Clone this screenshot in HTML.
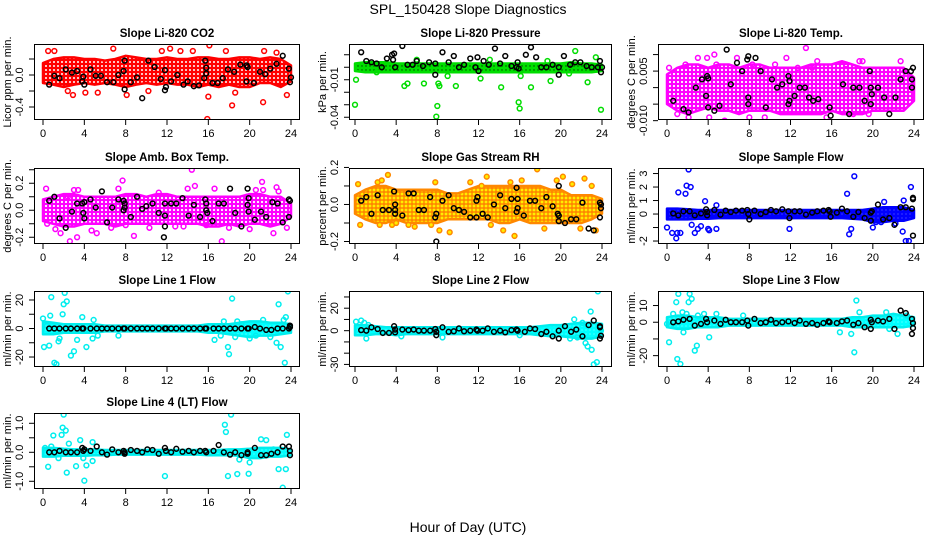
<!DOCTYPE html>
<html><head><meta charset="utf-8"><style>
html,body{margin:0;padding:0;background:#fff;}
svg{display:block;font-family:"Liberation Sans",Arial,sans-serif;}
</style></head><body>
<svg id="chart" width="936" height="540" viewBox="0 0 936 540" xmlns="http://www.w3.org/2000/svg">
<defs>
<pattern id="p-red" width="4" height="4" patternUnits="userSpaceOnUse"><rect width="4" height="4" fill="#ff0000"/><circle cx="2" cy="2" r="1.0" fill="#fff"/></pattern>
<pattern id="p-green" width="4" height="4" patternUnits="userSpaceOnUse"><rect width="4" height="4" fill="#00e000"/><circle cx="2" cy="2" r="0.7" fill="#004000"/></pattern>
<pattern id="p-magenta" width="4" height="4" patternUnits="userSpaceOnUse"><rect width="4" height="4" fill="#ff00ff"/><circle cx="2" cy="2" r="1.1" fill="#fff"/></pattern>
<pattern id="p-orange" width="4" height="4" patternUnits="userSpaceOnUse"><rect width="4" height="4" fill="#ff8800"/><circle cx="2" cy="2" r="1.4" fill="#ffee00"/></pattern>
<pattern id="p-blue" width="4" height="4" patternUnits="userSpaceOnUse"><rect width="4" height="4" fill="#0000ff"/><circle cx="2" cy="2" r="0.6" fill="#6060ff"/></pattern>
<pattern id="p-cyan" width="4" height="4" patternUnits="userSpaceOnUse"><rect width="4" height="4" fill="#00ffff"/><circle cx="2" cy="2" r="0.6" fill="#80ffff"/></pattern>
</defs>
<text x="468" y="14" text-anchor="middle" font-size="14">SPL_150428  Slope Diagnostics</text>
<text x="468" y="532" text-anchor="middle" font-size="14">Hour of Day (UTC)</text>
</svg>
<script>
const hours=[0,1,2,3,4,5,6,7,8,9,10,11,12,13,14,15,16,17,18,19,20,21,22,23,24];
const xTicks=[0,4,8,12,16,20,24];

const co2Upper=[0.15,0.2,0.22,0.22,0.2,0.2,0.18,0.2,0.24,0.22,0.2,0.2,0.22,0.2,0.2,0.22,0.22,0.2,0.2,0.22,0.22,0.2,0.22,0.2,0.12];
const co2Lower=[-0.1,-0.12,-0.15,-0.12,-0.1,-0.12,-0.1,-0.12,-0.15,-0.12,-0.1,-0.12,-0.1,-0.12,-0.12,-0.15,-0.12,-0.15,-0.12,-0.15,-0.15,-0.1,-0.1,-0.15,-0.08];
const co2Out=[[0.5,0.3],[1.1,0.3],[2.4,-0.2],[2.9,-0.25],[4.1,-0.22],[5.3,-0.22],[6.8,0.33],[8.1,-0.25],[10.2,-0.2],[11.5,0.3],[14.5,0.3],[15.9,-0.55],[16.1,0.37],[16.0,-0.27],[17.7,0.3],[18.3,-0.38],[18.6,-0.22],[21.3,-0.34],[21.4,0.3],[23.6,-0.25],[22.6,0.28],[12.3,0.33],[13.3,0.3]];
const co2Black=[[0.6,-0.12],[1.1,-0.01],[1.6,-0.04],[2.2,0.07],[2.8,0.03],[3.3,0.05],[3.8,-0.08],[3.9,-0.02],[4.0,-0.12],[4.6,0.07],[5.1,-0.01],[5.6,-0.01],[6.2,-0.09],[6.8,-0.09],[7.3,0.0],[7.8,0.05],[7.9,-0.18],[7.9,0.18],[8.5,-0.09],[9.1,-0.03],[9.6,-0.29],[10.2,0.18],[10.8,0.1],[11.4,-0.05],[11.8,-0.19],[11.8,0.06],[11.9,-0.15],[12.4,-0.08],[13.0,0.0],[13.6,-0.12],[14.0,-0.08],[14.6,-0.14],[15.1,-0.13],[15.7,0.18],[15.8,0.09],[15.8,0.02],[15.6,-0.04],[16.4,-0.1],[16.9,-0.1],[17.4,-0.04],[17.9,0.07],[18.5,0.04],[19.1,0.13],[19.7,0.12],[19.8,0.1],[19.7,-0.08],[20.4,-0.1],[21.0,0.04],[21.5,0.01],[22.0,0.08],[22.6,0.14],[23.2,0.24],[23.8,0.08],[23.9,-0.09],[24.0,-0.03]];

const presUpper=[0.003,0.004,0.004,0.004,0.003,0.003,0.003,0.003,0.003,0.003,0.003,0.003,0.003,0.003,0.003,0.003,0.003,0.003,0.003,0.003,0.003,0.004,0.003,0.003,0.002];
const presLower=[-0.003,-0.004,-0.004,-0.004,-0.004,-0.004,-0.004,-0.004,-0.004,-0.004,-0.004,-0.004,-0.004,-0.004,-0.004,-0.004,-0.004,-0.004,-0.004,-0.004,-0.004,-0.004,-0.004,-0.004,-0.003];
const presOut=[[0.0,-0.03],[0.1,-0.01],[4.0,-0.046],[4.8,-0.015],[5.1,-0.013],[6.7,-0.013],[7.9,-0.0395],[8.0,-0.031],[8.1,-0.013],[8.2,-0.015],[9.8,-0.015],[11.9,-0.046],[12.2,-0.009],[14.2,-0.016],[15.9,-0.028],[16.0,-0.033],[16.1,-0.007],[17.1,-0.016],[19.0,-0.011],[19.9,-0.052],[21.4,0.013],[22.6,-0.012],[23.9,-0.034],[23.4,0.008],[20.8,-0.005],[18.7,0.005],[13.1,0.006],[6.0,0.006],[9.0,-0.007],[2.1,-0.004]];
const presBlack=[[0.6,0.012],[1.1,0.005],[1.6,0.004],[2.1,0.003],[2.6,0.0],[3.1,0.007],[3.6,0.01],[3.8,0.011],[3.7,0.006],[3.9,0.0],[4.6,0.017],[5.1,0.002],[5.6,0.002],[6.0,0.005],[6.6,0.001],[7.2,0.004],[7.8,0.003],[7.8,-0.006],[8.5,0.012],[9.1,0.004],[9.6,0.009],[10.1,0.0],[10.6,0.002],[11.2,0.007],[11.7,0.0],[11.9,0.008],[12.0,-0.003],[12.5,0.005],[13.0,0.002],[13.6,0.015],[14.1,0.003],[14.6,0.009],[15.2,0.001],[15.8,0.004],[15.9,-0.001],[15.7,0.0],[16.6,0.01],[17.1,0.016],[17.6,0.008],[18.1,0.0],[18.6,0.0],[19.2,0.002],[19.8,0.0],[19.8,-0.006],[20.3,0.009],[20.9,0.002],[21.4,0.004],[21.9,0.004],[22.5,0.001],[23.0,0.0],[23.6,0.0],[23.8,0.005],[23.9,-0.004],[24.0,0.0]];

const tempUpper=[0.004,0.006,0.007,0.007,0.006,0.007,0.007,0.006,0.007,0.007,0.006,0.006,0.006,0.006,0.007,0.007,0.007,0.008,0.007,0.006,0.006,0.006,0.006,0.006,0.003];
const tempLower=[-0.005,-0.007,-0.008,-0.007,-0.006,-0.007,-0.007,-0.008,-0.007,-0.007,-0.007,-0.008,-0.008,-0.008,-0.008,-0.008,-0.007,-0.008,-0.008,-0.008,-0.007,-0.007,-0.007,-0.007,-0.004];
const tempOut=[[0.2,0.006],[1.0,-0.008],[1.8,0.007],[1.9,-0.012],[2.1,-0.009],[3.0,0.009],[3.9,0.009],[4.1,-0.009],[4.6,0.01],[5.6,-0.01],[6.8,0.009],[7.3,-0.011],[8.3,0.007],[8.0,-0.009],[9.5,-0.009],[10.5,0.007],[11.6,0.009],[12.3,-0.013],[13.5,0.012],[14.1,0.006],[14.6,0.008],[15.5,-0.009],[17.4,0.007],[18.1,-0.008],[18.7,0.008],[19.0,0.008],[19.6,-0.008],[20.1,0.004],[20.6,-0.012],[22.7,0.008],[23.1,0.005],[21.3,-0.003],[12.7,0.006],[4.8,0.007]];
const tempBlack=[[0.6,-0.004],[1.1,-0.0135],[1.6,-0.0065],[2.1,-0.0075],[2.8,0.0],[3.4,0.0025],[3.8,-0.0025],[3.9,0.0035],[4.0,0.0028],[4.0,-0.006],[4.6,-0.007],[5.1,-0.0055],[5.8,0.0115],[6.2,0.001],[6.8,0.0075],[7.3,0.005],[7.8,0.0085],[7.9,0.0095],[7.9,-0.003],[7.9,-0.005],[8.6,0.009],[9.1,0.005],[9.6,-0.006],[10.2,0.0025],[10.7,0.0],[11.2,0.001],[11.8,0.0035],[11.9,-0.004],[11.8,-0.005],[11.9,0.002],[12.4,-0.0025],[12.9,0.0],[13.4,0.0],[13.8,-0.003],[14.2,-0.004],[14.7,-0.0035],[15.7,0.0155],[15.8,0.0145],[15.8,-0.006],[15.9,-0.0085],[16.6,0.015],[17.1,0.001],[17.7,-0.008],[18.1,0.0],[18.7,0.0],[19.2,-0.004],[19.7,0.005],[19.8,0.0],[19.9,-0.002],[19.8,-0.005],[20.5,0.0],[21.1,-0.003],[21.6,-0.008],[22.2,-0.003],[22.7,0.0025],[23.2,0.005],[23.7,0.005],[23.9,0.006],[23.8,0.0],[23.8,0.0025]];

const ambUpper=[0.08,0.1,0.12,0.12,0.1,0.1,0.1,0.1,0.12,0.12,0.1,0.12,0.12,0.1,0.1,0.1,0.1,0.1,0.1,0.1,0.12,0.12,0.1,0.1,0.05];
const ambLower=[-0.08,-0.1,-0.12,-0.12,-0.1,-0.1,-0.1,-0.12,-0.1,-0.1,-0.1,-0.1,-0.1,-0.1,-0.1,-0.1,-0.12,-0.12,-0.1,-0.12,-0.1,-0.1,-0.12,-0.1,-0.05];
const ambOut=[[0.3,0.16],[0.4,-0.1],[1.2,-0.14],[1.7,-0.17],[2.6,-0.23],[2.4,0.1],[3.0,0.15],[3.4,0.15],[3.3,-0.2],[4.7,-0.15],[5.2,-0.17],[6.6,-0.13],[7.3,0.16],[7.7,0.22],[8.0,-0.11],[8.8,-0.19],[10.3,-0.13],[11.2,0.13],[12.8,-0.12],[13.6,-0.12],[14.0,0.16],[14.4,0.3],[14.7,0.18],[15.8,-0.11],[16.6,0.16],[17.3,-0.23],[18.0,-0.13],[19.7,0.1],[20.0,-0.14],[20.6,0.15],[21.2,0.21],[21.3,0.15],[22.3,-0.17],[22.6,0.17],[22.8,0.14],[23.6,-0.13]];
const ambBlack=[[0.6,0.07],[1.1,0.1],[1.6,-0.06],[2.2,-0.13],[2.8,-0.01],[3.3,0.05],[3.8,0.05],[3.9,-0.02],[4.0,0.06],[4.0,-0.06],[4.6,0.08],[5.1,0.02],[5.7,0.14],[6.2,-0.09],[6.7,0.02],[7.3,0.08],[7.8,0.07],[7.9,0.05],[7.9,0.02],[7.8,0.0],[8.5,-0.05],[9.1,0.1],[9.6,0.01],[10.0,0.03],[10.6,0.05],[11.2,-0.02],[11.8,-0.04],[11.8,0.05],[11.8,-0.12],[11.7,-0.2],[12.4,0.05],[12.9,0.05],[13.5,0.09],[14.1,-0.04],[14.6,0.04],[15.2,-0.05],[15.7,0.08],[15.8,0.05],[15.8,0.0],[15.9,-0.02],[16.4,-0.08],[17.0,0.05],[17.5,0.05],[18.1,0.16],[18.6,-0.02],[19.2,-0.12],[19.8,0.16],[19.9,0.09],[19.8,0.04],[19.9,-0.01],[20.5,-0.07],[21.1,-0.01],[21.6,-0.05],[22.2,0.06],[22.7,0.05],[23.2,-0.09],[23.8,0.08],[23.9,0.07],[23.8,-0.05]];

const rhUpper=[0.05,0.08,0.1,0.1,0.08,0.08,0.08,0.08,0.08,0.06,0.06,0.08,0.1,0.1,0.1,0.1,0.1,0.1,0.1,0.08,0.08,0.05,0.05,0.05,0.03];
const rhLower=[-0.05,-0.08,-0.1,-0.1,-0.08,-0.1,-0.1,-0.1,-0.1,-0.08,-0.08,-0.08,-0.08,-0.08,-0.1,-0.1,-0.08,-0.1,-0.1,-0.1,-0.1,-0.1,-0.1,-0.08,-0.05];
const rhOut=[[0.3,0.11],[0.5,-0.11],[2.2,0.12],[2.6,0.13],[3.2,0.16],[2.4,-0.11],[3.6,-0.11],[4.0,-0.1],[5.2,-0.11],[5.8,-0.12],[7.4,-0.11],[7.8,0.12],[8.2,-0.14],[9.2,-0.15],[11.2,0.12],[12.3,0.1],[12.8,0.15],[13.2,-0.11],[14.4,-0.14],[15.1,0.12],[15.5,-0.17],[16.2,0.13],[17.7,0.19],[18.4,-0.13],[19.6,0.13],[20.2,0.15],[21.1,0.11],[21.9,-0.13],[22.3,0.14],[23.0,0.1],[23.4,-0.14]];
const rhBlack=[[0.6,0.02],[1.1,0.04],[1.6,-0.05],[2.2,0.05],[2.7,-0.03],[3.3,-0.03],[3.8,0.07],[3.9,0.0],[3.9,-0.03],[3.9,-0.05],[4.6,-0.06],[5.2,0.06],[5.7,0.06],[6.2,-0.03],[6.7,-0.03],[7.3,0.04],[7.8,-0.07],[7.9,-0.05],[7.9,-0.2],[8.5,0.02],[9.1,0.05],[9.6,-0.02],[10.1,-0.03],[10.6,-0.04],[11.2,-0.07],[11.8,0.02],[11.8,-0.07],[11.9,0.04],[12.4,-0.05],[12.9,-0.07],[13.5,0.0],[14.1,0.05],[14.6,-0.02],[15.2,0.03],[15.7,0.09],[15.8,0.03],[15.8,-0.02],[15.7,-0.04],[16.4,-0.06],[17.0,0.02],[17.5,0.02],[18.1,-0.02],[18.6,0.04],[19.2,-0.01],[19.8,0.1],[19.7,-0.05],[19.8,-0.06],[19.8,-0.09],[20.4,-0.1],[21.0,-0.08],[21.5,-0.08],[22.1,0.01],[22.7,-0.13],[23.2,-0.14],[23.8,0.01],[23.8,-0.07],[23.9,-0.02],[23.9,0.0]];

const flowUpper=[0.4,0.4,0.35,0.3,0.3,0.3,0.3,0.3,0.3,0.3,0.3,0.3,0.3,0.3,0.3,0.3,0.3,0.3,0.3,0.3,0.4,0.5,0.5,0.5,0.3];
const flowLower=[-0.4,-0.4,-0.4,-0.35,-0.35,-0.3,-0.3,-0.3,-0.3,-0.3,-0.3,-0.3,-0.3,-0.3,-0.3,-0.3,-0.3,-0.3,-0.35,-0.4,-0.6,-0.6,-0.5,-0.5,-0.3];
const flowOut=[[0.0,-1.0],[0.5,-1.4],[0.9,-1.8],[1.1,1.6],[1.0,-1.4],[1.3,-1.4],[1.8,1.5],[1.9,2.1],[2.1,3.3],[2.3,2.0],[2.4,-0.8],[2.7,-1.4],[3.0,-1.1],[3.3,-0.9],[3.7,0.95],[4.0,-1.1],[4.1,-1.2],[4.8,-1.1],[4.8,0.65],[11.9,-1.1],[17.5,1.5],[17.7,-1.5],[17.9,-1.1],[18.2,2.8],[20.0,-1.0],[20.3,-0.6],[21.1,0.9],[22.9,-1.3],[23.0,1.0],[23.2,-2.0],[23.5,-2.0],[23.7,2.0],[20.8,-0.6],[22.2,-0.7]];
const flowBlack=[[0.6,0.05],[1.1,-0.1],[1.6,0.2],[2.2,0.2],[2.7,-0.1],[3.3,0.05],[3.8,0.35],[3.9,0.15],[3.9,-0.1],[4.6,0.3],[5.2,-0.05],[5.7,0.25],[6.2,0.15],[6.7,0.25],[7.3,0.25],[7.8,0.3],[7.9,0.0],[8.0,-0.4],[8.5,0.25],[9.1,0.0],[9.6,0.15],[10.1,0.3],[10.6,0.2],[11.2,0.35],[11.8,0.2],[11.9,-0.3],[12.4,0.2],[12.9,0.2],[13.5,-0.05],[14.1,0.1],[14.6,0.2],[15.2,0.25],[15.7,0.3],[15.8,0.2],[15.9,-0.2],[16.5,0.1],[17.0,0.4],[17.5,0.2],[18.1,-0.2],[18.6,0.15],[19.2,-0.3],[19.8,0.1],[19.8,-0.5],[19.9,0.2],[20.5,0.7],[21.0,-0.4],[21.6,-0.3],[22.1,-0.8],[22.7,0.5],[23.2,0.5],[23.8,0.4],[23.9,1.2],[23.9,1.1],[23.9,-1.6]];

const l1Upper=[5,4,3,3,3,3,2,2,2,2,2,2,2,2,2,2,3,3,3,4,5,5,4,4,3];
const l1Lower=[-4,-4,-3,-3,-3,-3,-2,-2,-2,-2,-2,-2,-2,-2,-2,-2,-3,-3,-4,-5,-6,-5,-5,-4,-3];
const l1Out=[[0.0,7],[0.1,-13],[0.4,2],[0.6,-12],[0.7,9],[0.8,22],[1.1,-24],[1.3,-25],[1.5,-9],[1.6,-7],[1.9,10],[2.0,17],[2.1,25],[2.3,19],[2.7,-19],[3.0,-16],[3.3,-8],[3.8,8],[4.2,-13],[4.9,6],[4.8,-7],[5.3,-5],[7.3,-5],[16.6,-8],[17.2,-5],[17.5,5],[17.9,-13],[18.0,-18],[18.3,21],[18.8,5],[18.6,-6],[19.2,3],[20.0,-7],[20.6,-5],[21.3,6],[22.0,-6],[22.6,-10],[22.8,17],[23.0,-13],[23.3,6],[23.4,-24],[23.5,8],[23.7,26]];
const l1Black=[[0.6,0],[1.1,0],[1.6,0],[2.2,0],[2.7,0],[3.3,0],[3.8,0],[3.9,0],[4.6,0],[5.2,0],[5.7,0],[6.2,0],[6.7,0],[7.3,0],[7.8,0],[7.9,0],[8.5,0],[9.1,0],[9.6,0],[10.1,0],[10.6,0],[11.2,0],[11.8,0],[11.9,0],[12.4,0],[12.9,0],[13.5,0],[14.1,0],[14.6,0],[15.2,0],[15.7,0],[15.8,0],[16.5,0],[17.0,0],[17.5,0],[18.1,0],[18.6,0],[19.2,0],[19.8,0],[19.9,0],[20.5,1],[21.0,0],[21.6,-1],[22.1,-1],[22.7,0],[23.2,0],[23.8,0],[23.9,1],[23.9,2]];

const l2Upper=[5,5,4,3,3,3,3,3,3,3,3,3,3,3,3,3,3,3,4,5,5,6,7,7,6];
const l2Lower=[-4,-4,-3,-3,-4,-3,-3,-3,-3,-3,-3,-3,-3,-3,-3,-3,-3,-3,-4,-5,-5,-6,-7,-7,-5];
const l2Out=[[0.1,8],[0.6,9],[0.9,7],[1.1,-7],[1.3,5],[8.5,-6],[20.9,-7],[21.3,10],[21.6,-6],[22.1,7],[22.4,-11],[22.6,-14],[22.9,17],[23.0,-17],[23.2,-30],[23.5,-28],[23.6,35],[23.9,0],[4.5,-5],[16.0,-4]];
const l2Black=[[0.6,0.5],[1.1,0],[1.6,3],[2.2,1.5],[2.7,-2],[3.3,-2],[3.8,4],[3.9,1],[3.9,-1.5],[4.6,1],[5.2,0.5],[5.7,1],[6.2,0],[6.7,0],[7.3,0],[7.8,1.5],[7.9,-1],[7.9,-4],[8.5,3],[9.1,-1],[9.6,-0.5],[10.1,2],[10.6,-0.5],[11.2,0],[11.8,1],[11.9,0],[12.4,0],[12.9,2],[13.5,-1],[14.1,0],[14.6,-1.5],[15.2,0.5],[15.7,1],[15.8,0],[16.5,-1],[17.0,2],[17.5,1.5],[18.1,-3],[18.6,-1],[19.2,-5],[19.8,0],[19.8,-7],[20.4,4],[21.0,-1],[21.5,1],[22.1,-5],[22.7,5],[23.2,9],[23.8,3],[23.8,-7],[23.9,-4.5],[23.8,4]];

const l3Upper=[3,4,4,3,3,3,2,2,2,2,2,2,2,2,2,2,2,2,3,3,4,4,5,4,3];
const l3Lower=[-3,-4,-4,-3,-3,-3,-2,-2,-2,-2,-2,-2,-2,-2,-2,-2,-2,-2,-3,-3,-3,-3,-3,-3,-2];
const l3Out=[[0.0,-1],[0.2,-12],[0.4,-2],[0.6,5],[0.9,12],[1.0,-22],[1.1,17],[1.3,-25],[1.5,6],[1.6,-6],[1.9,5],[2.1,12],[2.2,17],[2.4,14],[2.7,-17],[2.9,-14],[3.0,4],[3.6,5],[4.1,-9],[4.8,5],[7.4,4],[16.8,-6],[17.9,-7],[18.2,-18],[18.4,13],[18.7,6],[21.3,6],[21.6,-4],[22.4,-7],[23.3,4]];
const l3Black=[[0.6,0],[1.1,0.5],[1.6,1.5],[2.2,2],[2.7,-2],[3.3,-1],[3.8,2],[3.9,0],[4.6,1],[5.2,-1],[5.7,1.5],[6.2,0],[6.7,0],[7.3,0],[7.8,1],[7.9,-2],[8.5,2],[9.1,-0.5],[9.6,0],[10.1,1.5],[10.6,-0.5],[11.2,0],[11.8,0.5],[12.4,-0.5],[12.9,1],[13.5,-1],[14.1,-0.5],[14.6,-1.5],[15.2,-0.5],[15.7,0.5],[15.8,0],[16.5,-0.5],[17.0,0.5],[17.5,1],[18.1,-1.5],[18.6,-0.5],[19.2,-3],[19.8,1.5],[19.8,-4],[19.9,0],[20.5,1],[21.0,0.5],[21.6,2],[22.1,-4],[22.7,7],[23.2,5.5],[23.8,2],[23.9,-0.5],[23.9,-3.5],[23.8,-7]];

const l4Upper=[0.15,0.15,0.12,0.1,0.1,0.1,0.08,0.08,0.08,0.08,0.08,0.08,0.08,0.08,0.08,0.08,0.08,0.08,0.1,0.1,0.12,0.15,0.15,0.15,0.1];
const l4Lower=[-0.15,-0.15,-0.12,-0.12,-0.12,-0.1,-0.1,-0.08,-0.08,-0.08,-0.08,-0.08,-0.08,-0.08,-0.08,-0.08,-0.1,-0.1,-0.1,-0.12,-0.2,-0.2,-0.15,-0.15,-0.1];
const l4Out=[[0.2,0.15],[0.5,-0.5],[0.8,0.2],[1.0,0.58],[1.5,-0.2],[1.8,0.6],[1.9,0.85],[2.0,1.3],[2.2,0.75],[2.3,-0.7],[2.5,0.3],[3.2,-0.48],[3.6,0.42],[3.9,-0.2],[4.0,-0.98],[4.2,-0.45],[4.8,0.35],[4.8,-0.3],[11.8,-0.82],[17.6,0.95],[17.7,0.7],[17.9,-0.82],[18.2,1.3],[18.8,-0.75],[19.0,-0.25],[19.9,-0.74],[20.0,-0.35],[21.1,0.45],[21.6,0.42],[22.8,-0.58],[23.2,-1.22],[23.5,-0.58],[23.6,0.6],[22.3,0.1]];
const l4Black=[[0.6,0],[1.1,0],[1.6,0.05],[2.2,0],[2.7,0],[3.3,0],[3.8,0.15],[3.9,0.05],[4.0,0.1],[4.6,0.05],[5.2,0.2],[5.7,0],[6.2,-0.08],[6.7,0.1],[7.3,0],[7.8,0.05],[7.9,0],[7.9,-0.05],[8.5,0.08],[9.1,0.05],[9.6,0],[10.1,0.1],[10.6,0.08],[11.2,-0.05],[11.8,0.15],[11.9,0.05],[12.4,0],[12.9,0.12],[13.5,0.02],[14.1,0.05],[14.6,0],[15.2,0.05],[15.7,0.05],[15.8,0],[16.5,0.05],[17.0,0.25],[17.5,0],[18.1,-0.08],[18.6,0],[19.2,-0.1],[19.8,-0.05],[19.8,0],[20.5,0.15],[21.1,-0.1],[21.6,-0.1],[22.1,-0.05],[22.7,0],[23.2,0.2],[23.8,0.2],[23.9,-0.1],[23.9,0.05]];

const co2Ticks=[-0.4,-0.2,0,0.2], co2Labels=["-0.4","","0.0",""];
const presTicks=[0.01,0,-0.01,-0.02,-0.03,-0.04], presLabels=["","","-0.01","","","-0.04"];
const tempTicks=[0.01,0.005,0,-0.005,-0.01], tempLabels=["","0.005","","","-0.010"];
const ambTicks=[0.3,0.2,0.1,0,-0.1,-0.2], ambLabels=["","0.2","","0.0","","-0.2"];
const rhTicks=[0.2,0.1,0,-0.1,-0.2], rhLabels=["0.2","","0.0","","-0.2"];
const flowTicks=[3,2,1,0,-1,-2], flowLabels=["3","2","1","0","","-2"];
const l1Ticks=[20,10,0,-10,-20], l1Labels=["20","","0","","-20"];
const l2Ticks=[30,20,10,0,-10,-20,-30], l2Labels=["","20","","0","","","-30"];
const l3Ticks=[10,0,-10,-20], l3Labels=["10","0","","-20"];
const l4Ticks=[1,0.5,0,-0.5,-1], l4Labels=["1.0","","0.0","","-1.0"];

const NS="http://www.w3.org/2000/svg";
const svg=document.getElementById('chart');
function mk(tag,attrs,parent){const e=document.createElementNS(NS,tag);for(const k in attrs)e.setAttribute(k,attrs[k]);(parent||svg).appendChild(e);return e;}

const cols=[{l:34,r:300,x0:43,x24:291},{l:349,r:612,x0:355,x24:602},{l:658,r:924,x0:667,x24:914}];
const rows=[{t:44,b:120},{t:168,b:244},{t:291,b:367},{t:413,b:489}];

const panels=[
 {name:'co2',title:'Slope Li-820 CO2',ylab:'Licor ppm per min.',c:0,r:0,ymin:-0.5625,ymax:0.3875,up:co2Upper,lo:co2Lower,out:co2Out,blk:co2Black,col:'#ff0000',pat:'p-red',ticks:co2Ticks,labels:co2Labels},
 {name:'pressure',title:'Slope Li-820 Pressure',ylab:'kPa per min.',c:1,r:0,ymin:-0.0422,ymax:0.0186,up:presUpper,lo:presLower,out:presOut,blk:presBlack,col:'#00dd00',pat:'p-green',ticks:presTicks,labels:presLabels},
 {name:'temp',title:'Slope Li-820 Temp.',ylab:'degrees C per min.',c:2,r:0,ymin:-0.0098,ymax:0.0132,up:tempUpper,lo:tempLower,out:tempOut,blk:tempBlack,col:'#ff00ff',pat:'p-magenta',ticks:tempTicks,labels:tempLabels},
 {name:'amb-box-temp',title:'Slope Amb. Box Temp.',ylab:'degrees C per min.',c:0,r:1,ymin:-0.25,ymax:0.313,up:ambUpper,lo:ambLower,out:ambOut,blk:ambBlack,col:'#ff00ff',pat:'p-magenta',ticks:ambTicks,labels:ambLabels},
 {name:'gas-stream-rh',title:'Slope Gas Stream RH',ylab:'percent per min.',c:1,r:1,ymin:-0.2135,ymax:0.197,up:rhUpper,lo:rhLower,out:rhOut,blk:rhBlack,col:'#ff8800',pat:'p-orange',ticks:rhTicks,labels:rhLabels,fill:'#ffee00'},
 {name:'sample-flow',title:'Slope Sample Flow',ylab:'ml/min per min.',c:2,r:1,ymin:-2.22,ymax:3.41,up:flowUpper,lo:flowLower,out:flowOut,blk:flowBlack,col:'#0000ff',pat:'p-blue',ticks:flowTicks,labels:flowLabels},
 {name:'line1-flow',title:'Slope Line 1 Flow',ylab:'ml/min per min.',c:0,r:2,ymin:-27,ymax:26.3,up:l1Upper,lo:l1Lower,out:l1Out,blk:l1Black,col:'#00eeee',pat:'p-cyan',ticks:l1Ticks,labels:l1Labels},
 {name:'line2-flow',title:'Slope Line 2 Flow',ylab:'ml/min per min.',c:1,r:2,ymin:-32.3,ymax:35.3,up:l2Upper,lo:l2Lower,out:l2Out,blk:l2Black,col:'#00eeee',pat:'p-cyan',ticks:l2Ticks,labels:l2Labels},
 {name:'line3-flow',title:'Slope Line 3 Flow',ylab:'ml/min per min.',c:2,r:2,ymin:-26.8,ymax:18.7,up:l3Upper,lo:l3Lower,out:l3Out,blk:l3Black,col:'#00eeee',pat:'p-cyan',ticks:l3Ticks,labels:l3Labels},
 {name:'line4-flow',title:'Slope Line 4 (LT) Flow',ylab:'ml/min per min.',c:0,r:3,ymin:-1.266,ymax:1.355,up:l4Upper,lo:l4Lower,out:l4Out,blk:l4Black,col:'#00eeee',pat:'p-cyan',ticks:l4Ticks,labels:l4Labels}
];

panels.forEach(p=>{
  const C=cols[p.c],R=rows[p.r];
  const xs=v=>C.x0+(C.x24-C.x0)*v/24;
  const ys=v=>R.b-(v-p.ymin)/(p.ymax-p.ymin)*(R.b-R.t);
  const g=mk('g',{});
  
  
  const cid='clip-'+p.name;
  const cp=mk('clipPath',{id:cid},g);mk('rect',{x:C.l,y:R.t,width:C.r-C.l,height:R.b-R.t},cp);
  const plot=mk('g',{'clip-path':'url(#'+cid+')'},g);
  let d='';
  hours.forEach((h,i)=>{d+=(i?'L':'M')+xs(h).toFixed(1)+','+ys(p.up[i]).toFixed(1);});
  for(let i=hours.length-1;i>=0;i--)d+='L'+xs(hours[i]).toFixed(1)+','+ys(p.lo[i]).toFixed(1);
  const band=mk('path',{d:d+'Z',fill:'url(#'+p.pat+')',stroke:p.col,'stroke-width':2.5,'stroke-linejoin':'round'},plot);
  
  
  p.out.forEach(pt=>{
    const c=mk('circle',{cx:xs(pt[0]),cy:ys(pt[1]),r:2.4,fill:p.fill||'none',stroke:p.col,'stroke-width':1.5},plot);
    
    
  });
  p.blk.forEach(pt=>{
    const c=mk('circle',{cx:xs(pt[0]),cy:ys(pt[1]),r:2.4,fill:'none',stroke:'#000','stroke-width':1.5},plot);
    
    
  });
  const box=mk('rect',{x:C.l+0.5,y:R.t+0.5,width:C.r-C.l-1,height:R.b-R.t-1,fill:'none',stroke:'#000','stroke-width':1},g);
  
  
  xTicks.forEach(t=>{
    const x=xs(t);
    mk('line',{x1:x,y1:R.b,x2:x,y2:R.b+5,stroke:'#000'},g);
    const tx=mk('text',{x:x,y:R.b+17,'text-anchor':'middle','font-size':11},g);
    tx.textContent=String(t);
    
    
  });
  p.ticks.forEach((t,i)=>{
    const y=ys(t);
    if(y<R.t-1||y>R.b+1)return;
    mk('line',{x1:C.l-5,y1:y,x2:C.l,y2:y,stroke:'#000'},g);
    if(p.labels[i]){
      const tx=mk('text',{x:C.l-11,y:y,'text-anchor':'middle','font-size':11,transform:'rotate(-90 '+(C.l-11)+' '+y+')'},g);
      tx.textContent=p.labels[i];
      
      
    }
  });
  const yc=(R.t+R.b)/2, yx=C.l-23;
  const yl=mk('text',{x:yx,y:yc,'text-anchor':'middle','font-size':11,transform:'rotate(-90 '+yx+' '+yc+')'},g);
  yl.textContent=p.ylab;
  
  
  const tt=mk('text',{x:(C.l+C.r)/2,y:R.t-7,'text-anchor':'middle','font-size':11.5,'font-weight':'bold'},g);
  tt.textContent=p.title;
  
  
});
</script>
</body></html>
